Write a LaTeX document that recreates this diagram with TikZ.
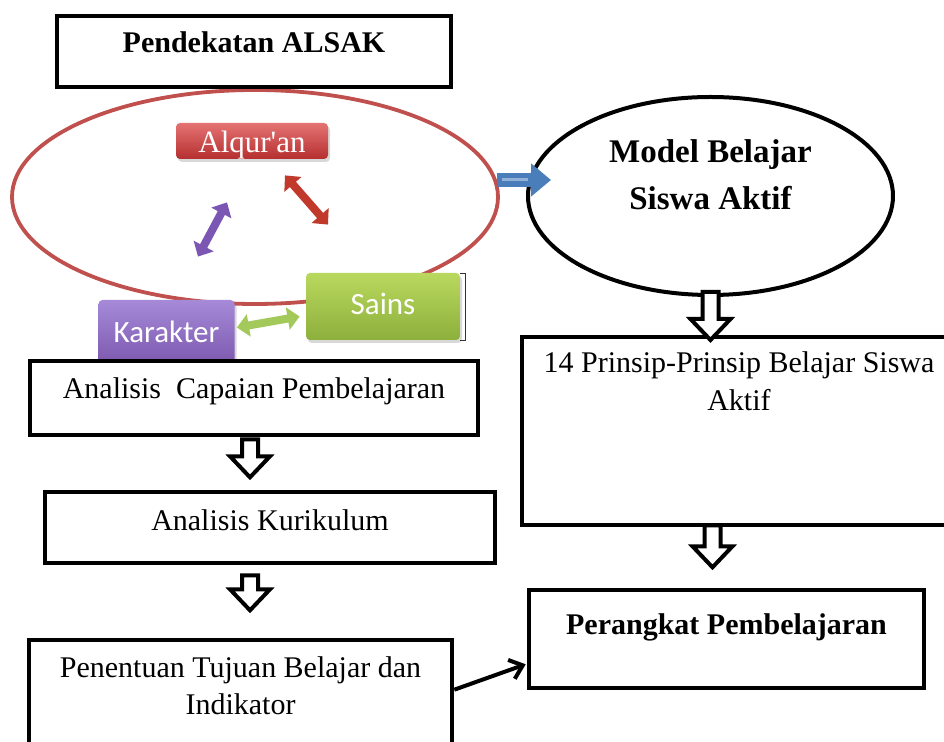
\documentclass[tikz,border=0pt]{standalone}
\usepackage{fontspec}
\setmainfont{Liberation Serif}
\newfontfamily\calibri{Carlito}
\usetikzlibrary{shapes.geometric,arrows.meta,calc,shadows}

\definecolor{ovalred}{HTML}{C0504D}
\definecolor{alqtop}{HTML}{E57373}
\definecolor{alqbot}{HTML}{B52F2F}
\definecolor{kartop}{HTML}{A68AD8}
\definecolor{karbot}{HTML}{7550A8}
\definecolor{saitop}{HTML}{B9D85E}
\definecolor{saibot}{HTML}{8DB03C}
\definecolor{arrowblue}{HTML}{4A7EBB}
\definecolor{twinred}{HTML}{C0392B}
\definecolor{twinpurple}{HTML}{7B56B3}
\definecolor{twingreen}{HTML}{A3C95A}

\tikzset{
  box/.style={draw, line width=2.3pt, fill=white, inner sep=0pt,
    font=\fontsize{15}{18.5}\selectfont, text height=10pt},
  tile/.style={rounded corners=2pt, inner sep=0pt, text=white, text height=10pt,
    drop shadow={shadow xshift=1pt, shadow yshift=-1.5pt, opacity=0.3}},
  hollow/.style={draw, line width=2pt, fill=white, line join=miter},
  twin/.style={line width=4pt, {Triangle[length=6pt,width=11pt]}-{Triangle[length=6pt,width=11pt]}},
  pics/downarrow/.style={code={
    \draw[hollow] (-8,0) -- (8,0) -- (8,#1-21) -- (20,#1-21) -- (0,#1)
      -- (-20,#1-21) -- (-8,#1-21) -- cycle;}}
}

\begin{document}
\begin{tikzpicture}[x=0.5pt, y=-0.5pt]
  \useasboundingbox (0,0) rectangle (944,742);
  \clip (0,0) rectangle (944,742);
  \fill[white] (0,0) rectangle (944,742);

  \node[ellipse, draw=ovalred, line width=1.9pt, minimum width=243pt,
    minimum height=107pt, inner sep=0pt] (alsak) at (255,197) {};
  \node[box, minimum width=197pt, minimum height=35.5pt, text depth=8.5pt,
    font=\fontsize{15}{18.5}\selectfont\bfseries] (title) at (254,51.5) {Pendekatan ALSAK};

  \node[tile, top color=alqtop, bottom color=alqbot, minimum width=76pt,
    minimum height=18pt, text height=14pt, text depth=2pt, font=\fontsize{15.5}{18}\selectfont]
    (alq) at (252,141) {Alqur\textquotesingle an};
  \node[tile, top color=kartop, bottom color=karbot, minimum width=68pt,
    minimum height=37.5pt, text depth=4.5pt, font=\calibri\fontsize{15.5}{18}\selectfont]
    (kar) at (166.5,337.5) {Karakter};
  \node[tile, top color=saitop, bottom color=saibot, minimum width=77pt,
    minimum height=33.5pt, text depth=1.5pt, font=\calibri\fontsize{15.5}{18}\selectfont]
    (sains) at (383,306.5) {Sains};
  \draw[line width=0.6pt, black!80] ($(sains.north east)+(0,1)$) -- ++(5,0)
    -- ($(sains.south east)+(5,0)$) -- (sains.south east);

  \draw[twin, twinred] ($(alq.south)+(33,16)$) -- ($(sains.north)+(-55,-48)$);
  \draw[twin, twinpurple] ($(alq.south)+(-25,43)$) -- ($(kar.north)+(31.5,-43)$);
  \draw[twin, twingreen] ($(kar.east)+(2,-10)$) -- ($(sains.west)+(-6,10)$);

  \node[ellipse, draw, line width=2pt, minimum width=182.5pt, minimum height=99pt,
    inner sep=0pt, text width=120pt, align=flush center, text height=10pt, text depth=43pt,
    font=\fontsize{16.5}{23.5}\selectfont\bfseries] (model) at (710.5,196)
    {Model Belajar\\Siswa Aktif};
  \draw[line width=7pt, arrowblue, -{Triangle[length=10pt,width=16pt]}]
    ($(alsak.east)+(-3,-17)$) -- ($(model.west)+(25,-16)$);
  \draw[line width=1.5pt, arrowblue!60!white] ($(alsak.east)+(2,-17)$) -- ($(model.west)+(2,-16)$);

  \node[box, minimum width=217pt, minimum height=94pt, text width=205pt, align=flush center,
    text depth=68pt, font=\fontsize{15}{19}\selectfont] (prinsip) at (739,431)
    {14 Prinsip-Prinsip Belajar Siswa\\Aktif};
  \node[box, minimum width=197.5pt, minimum height=49pt, text depth=14pt,
    font=\fontsize{15}{18.5}\selectfont\bfseries] (perangkat) at (726.5,639)
    {Perangkat Pembelajaran};

  \node[box, minimum width=224pt, minimum height=37pt, text depth=9pt]
    (acp) at (254,398) {Analisis~ Capaian Pembelajaran};
  \node[box, minimum width=225pt, minimum height=35.5pt, text depth=6.5pt]
    (kur) at (270,527.5) {Analisis Kurikulum};
  \node[box, minimum width=211.5pt, minimum height=80pt, text width=200pt, align=flush center,
    text depth=52pt] (ptb) at (240.5,720) {Penentuan Tujuan Belajar dan\\Indikator};

  \pic at ($(model.south)+(0,-5)$) {downarrow=48};
  \pic at ($(prinsip.south -| model.south)+(2,-2)$) {downarrow=42};
  \pic at ($(acp.south)+(-4,2)$) {downarrow=38};
  \pic at ($(kur.south)+(-20,10)$) {downarrow=35};

  \draw[line width=2pt, -{Straight Barb[length=6pt,width=10pt]}]
    ($(ptb.north east)+(0,52)$) -- ($(perangkat.south west)+(-1,-26)$);
\end{tikzpicture}
\end{document}
